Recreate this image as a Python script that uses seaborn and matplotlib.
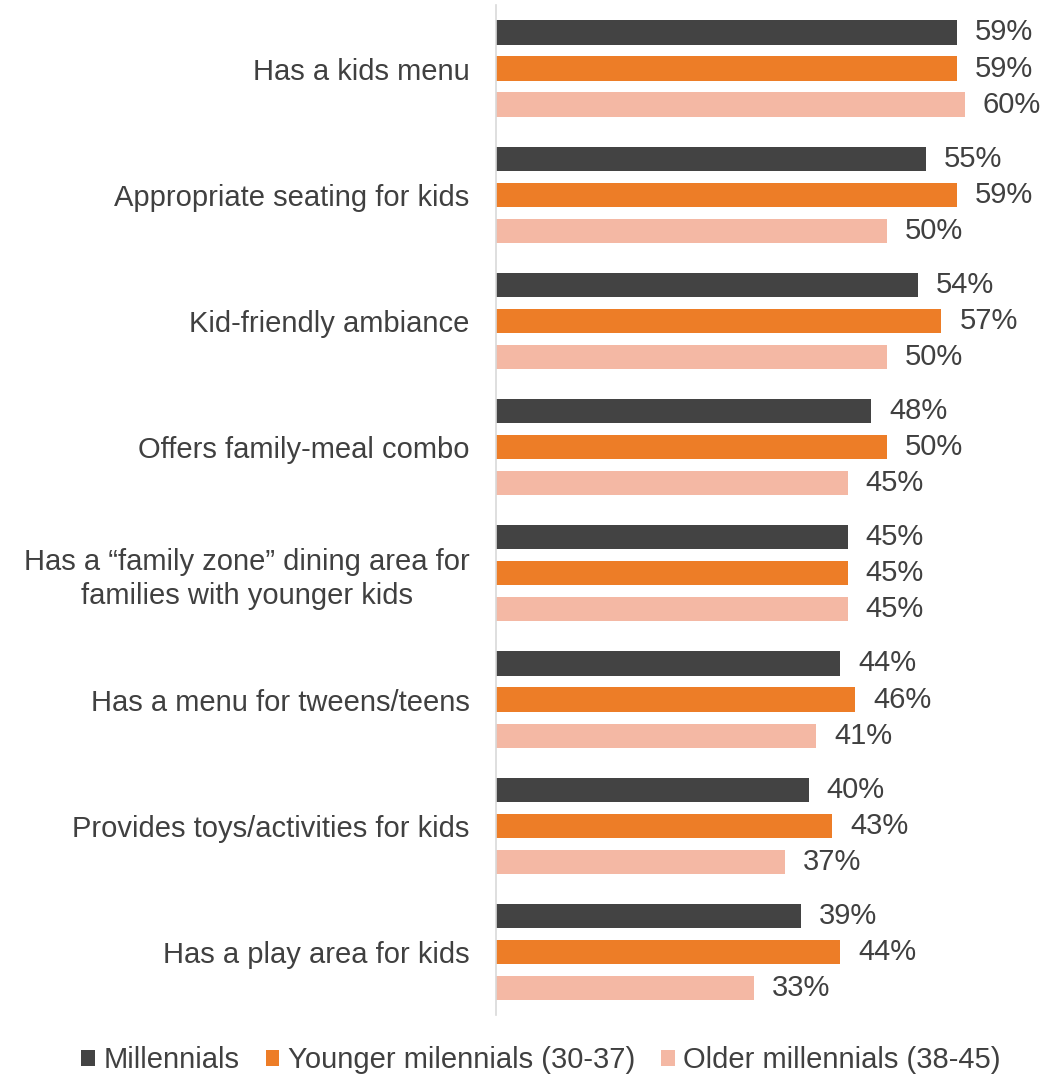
import pandas as pd
import matplotlib.pyplot as plt
import matplotlib as mpl
import seaborn as sns
from matplotlib.patches import Patch

mpl.rcParams["font.family"] = ["Liberation Sans", "DejaVu Sans"]

categories = [
    "Has a kids menu",
    "Appropriate seating for kids",
    "Kid-friendly ambiance",
    "Offers family-meal combo",
    "Has a \u201cfamily zone\u201d dining area for\nfamilies with younger kids",
    "Has a menu for tweens/teens",
    "Provides toys/activities for kids",
    "Has a play area for kids",
]
groups = ["Millennials", "Younger milennials (30-37)", "Older millennials (38-45)"]
millennials = [59, 55, 54, 48, 45, 44, 40, 39]
younger = [59, 59, 57, 50, 45, 46, 43, 44]
older = [60, 50, 50, 45, 45, 41, 37, 33]
colors = ["#434343", "#ED7D27", "#F4B8A4"]

rows = []
for name, vals in zip(groups, [millennials, younger, older]):
    for cat, v in zip(categories, vals):
        rows.append({"category": cat, "group": name, "value": v})
df = pd.DataFrame(rows)

FS = 21

fig = plt.figure(figsize=(10.61, 10.81), dpi=100)
ax = fig.add_axes([0.4675, 0.061, 0.5325, 0.934])

sns.barplot(
    data=df, y="category", x="value", hue="group",
    order=categories, hue_order=groups, palette=colors,
    orient="h", width=0.857, gap=0.33, saturation=1, legend=False, ax=ax,
)

for cont in ax.containers:
    ax.bar_label(cont, fmt="%g%%", padding=13, fontsize=FS, color="#404040")

ax.set_xlim(0, 72.3)
ax.set_ylim(len(categories) - 0.5, -0.5)
ax.set_xlabel("")
ax.set_ylabel("")
ax.set_xticks([])
ax.tick_params(axis="y", length=0, pad=19, labelsize=FS, labelcolor="#404040")
for lbl in ax.get_yticklabels():
    lbl.set_multialignment("center")
    lbl.set_linespacing(1.25)

for s in ["top", "right", "bottom"]:
    ax.spines[s].set_visible(False)
ax.spines["left"].set_color("#D9D9D9")
ax.spines["left"].set_linewidth(1.2)

handles = [Patch(facecolor=c, edgecolor="none") for c in colors]
fig.legend(
    handles, groups, loc="center", bbox_to_anchor=(0.51, 0.019), ncol=3,
    frameon=False, fontsize=FS, handlelength=0.46, handleheight=0.46,
    handletextpad=0.3, columnspacing=0.9, labelcolor="#404040",
)

fig.savefig("out.png", dpi=100)
